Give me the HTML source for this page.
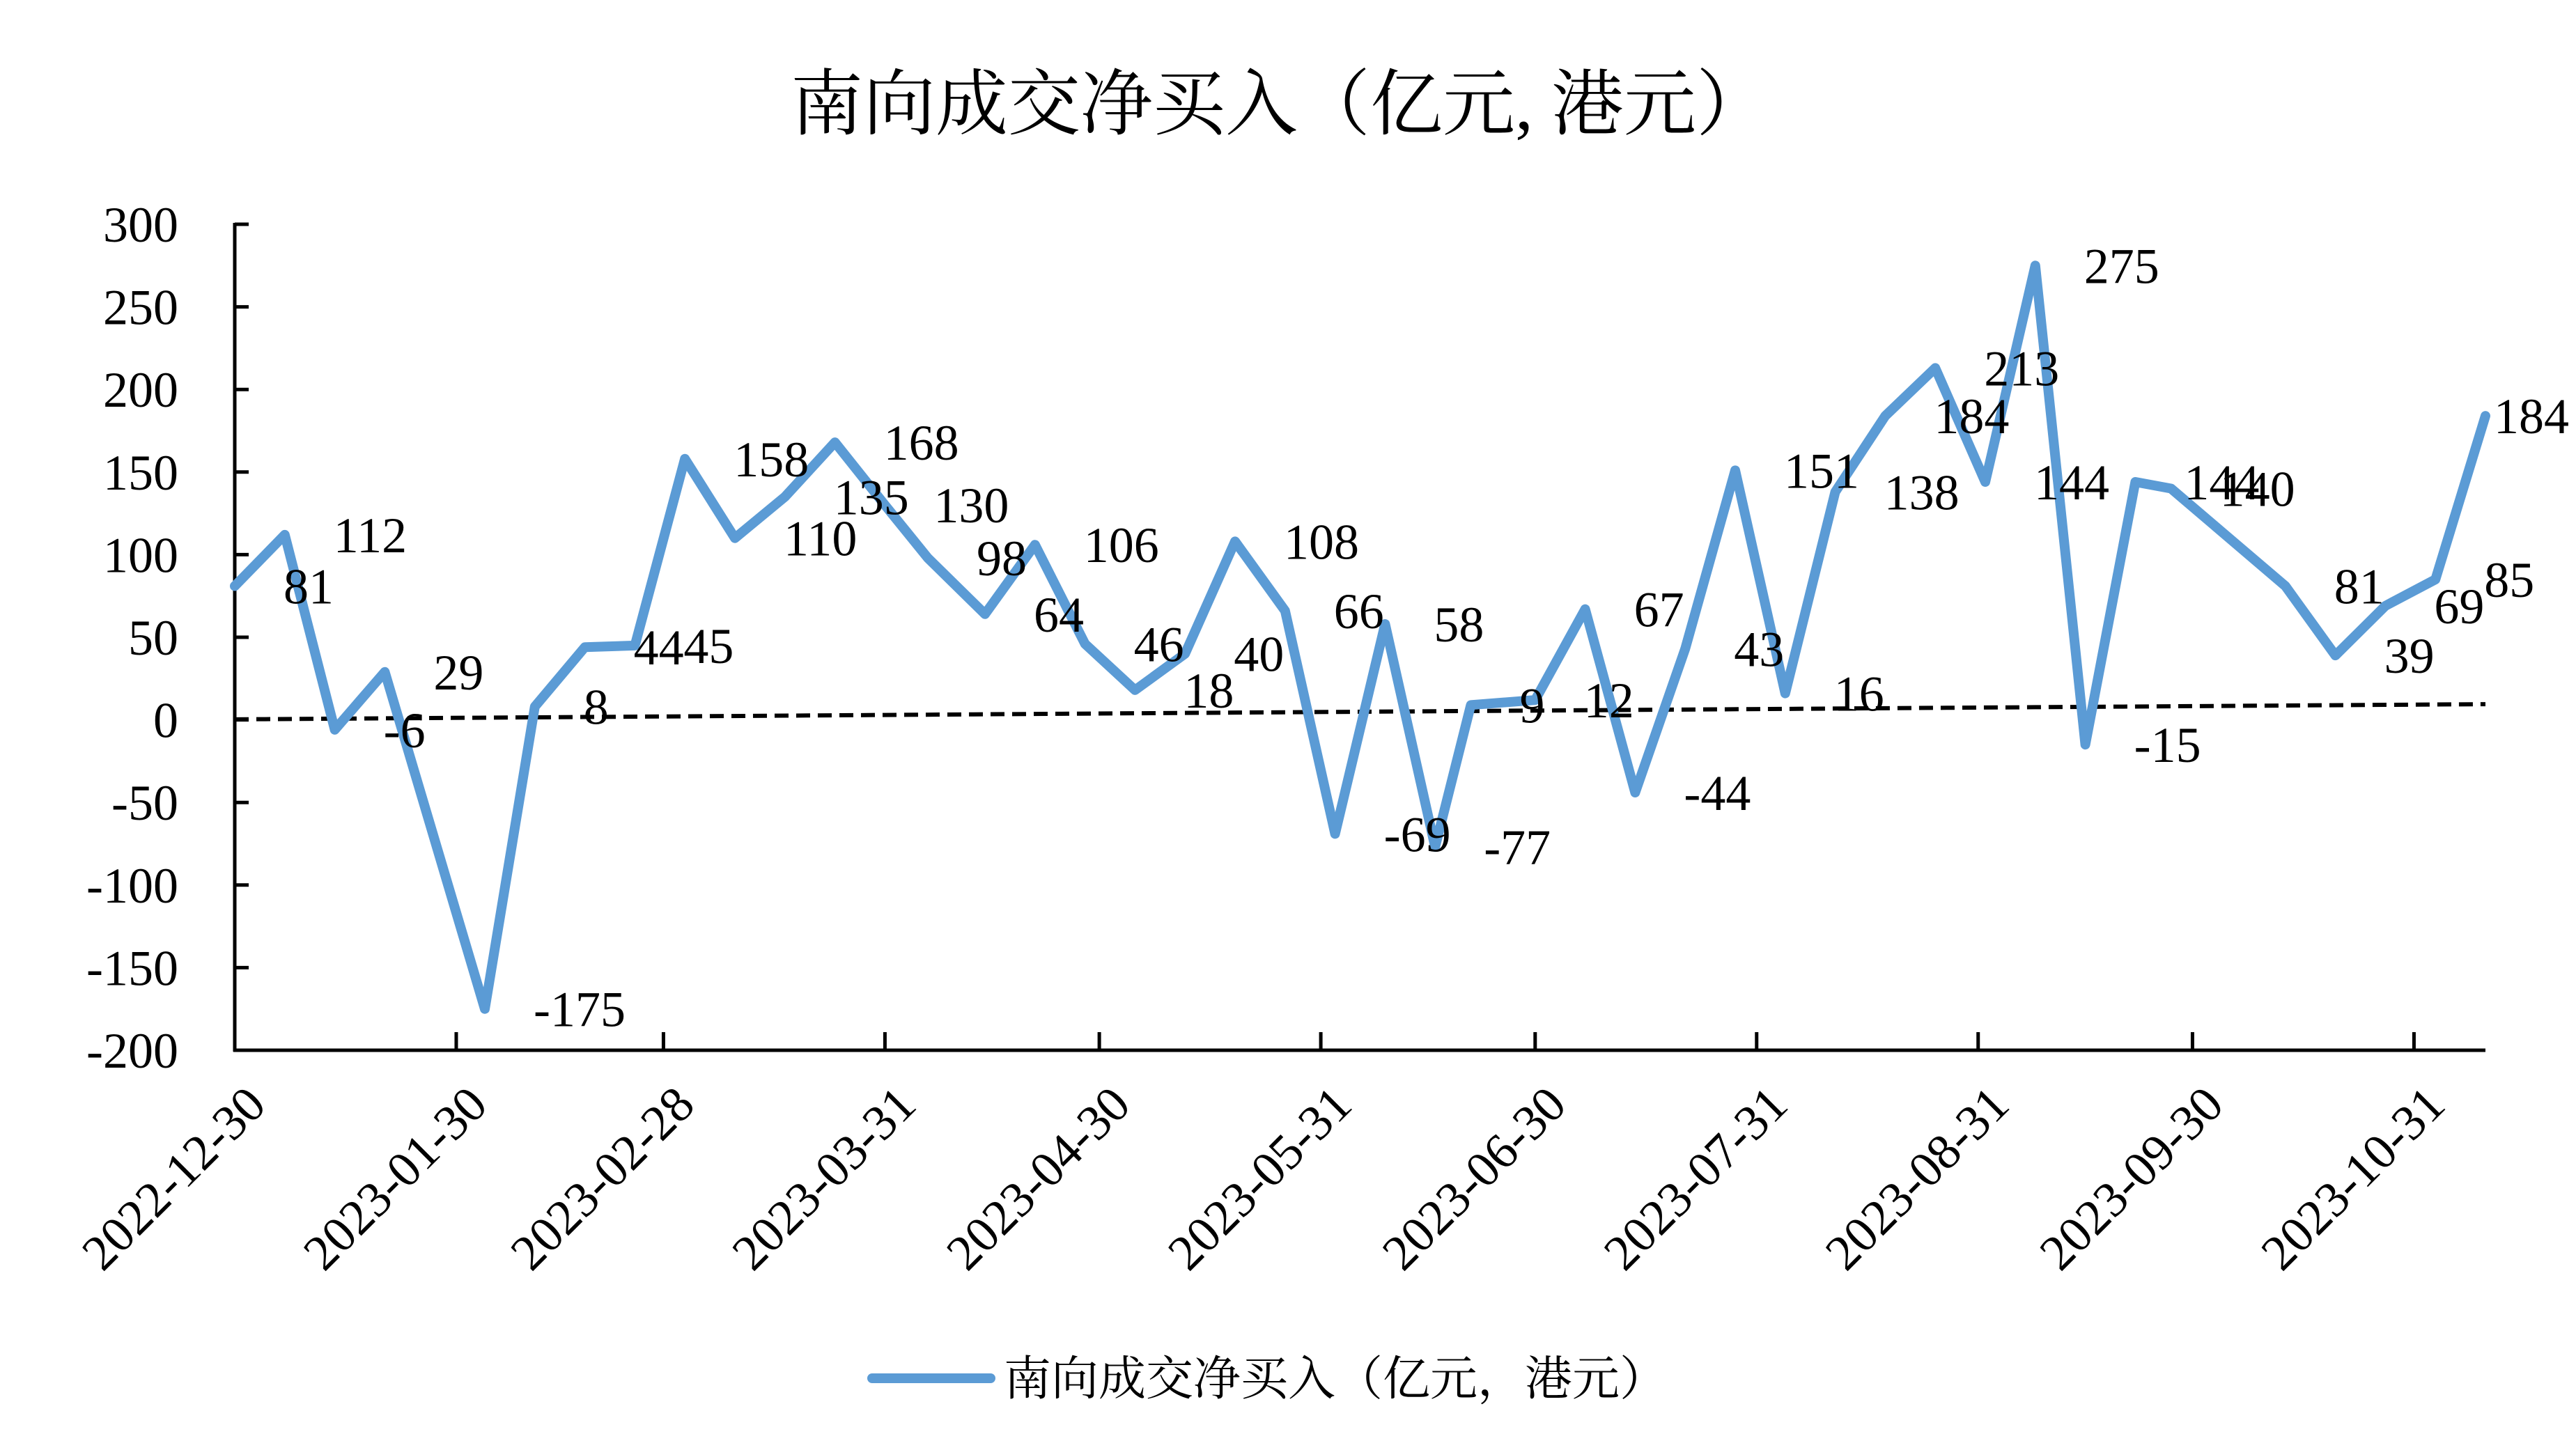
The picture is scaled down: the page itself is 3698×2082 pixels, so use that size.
<!DOCTYPE html>
<html><head><meta charset="utf-8"><style>
html,body{margin:0;padding:0;background:#fff;}
svg{display:block;}
text{font-family:"Liberation Serif","Noto Serif CJK SC",serif;fill:#000;}
.cjk{font-family:"Liberation Serif","Noto Serif CJK SC","Noto Sans CJK SC",serif;}
</style></head><body>
<svg id="chart" width="3698" height="2082" viewBox="0 0 3698 2082" xmlns="http://www.w3.org/2000/svg">
<rect width="3698" height="2082" fill="#fff"/>
<text class="cjk" x="1837" y="185" font-size="104" text-anchor="middle">南向成交净买入（亿元, 港元）</text>
<g id="grid"></g>
<g>
<line x1="1252" y1="1979" x2="1422" y2="1979" stroke="#5B9BD5" stroke-width="14" stroke-linecap="round"/>
<text class="cjk" x="1441" y="2003" font-size="68">南向成交净买入（亿元，港元）</text>
</g>
</svg>
<script>
const dates = ["2022-12-30","2023-01-06","2023-01-13","2023-01-20","2023-02-03","2023-02-10","2023-02-17","2023-02-24","2023-03-03","2023-03-10","2023-03-17","2023-03-24","2023-03-31","2023-04-06","2023-04-14","2023-04-21","2023-04-28","2023-05-05","2023-05-12","2023-05-19","2023-05-26","2023-06-02","2023-06-09","2023-06-16","2023-06-21","2023-06-30","2023-07-07","2023-07-14","2023-07-21","2023-07-28","2023-08-04","2023-08-11","2023-08-18","2023-08-25","2023-09-01","2023-09-08","2023-09-15","2023-09-22","2023-09-27","2023-10-13","2023-10-20","2023-10-27","2023-11-03","2023-11-10"];
const values = [81,112,-6,29,-175,8,44,45,158,110,135,168,130,98,64,106,46,18,40,108,66,-69,58,-77,9,12,67,-44,43,151,16,138,184,213,144,275,-15,144,140,81,39,69,85,184];
const yTicks = [300,250,200,150,100,50,0,-50,-100,-150,-200];
const xTickLabels = ["2022-12-30","2023-01-30","2023-02-28","2023-03-31","2023-04-30","2023-05-31","2023-06-30","2023-07-31","2023-08-31","2023-09-30","2023-10-31"];
const trendValues = [0.3, 9.5];

const NS="http://www.w3.org/2000/svg";
const g=document.getElementById('grid');
const X0=337, X1=3568, YTOP=322, YBOT=1508, VMAX=300, VMIN=-200;
const d0=Date.parse("2022-12-30"), dEnd=Date.parse("2023-11-10");
function xs(ds){return X0+(Date.parse(ds)-d0)/(dEnd-d0)*(X1-X0);}
function ys(v){return YTOP+(VMAX-v)/(VMAX-VMIN)*(YBOT-YTOP);}
function mk(tag,attrs){const e=document.createElementNS(NS,tag);for(const k in attrs)e.setAttribute(k,attrs[k]);g.appendChild(e);return e;}

// y ticks & labels
yTicks.forEach(v=>{
  const t=mk('line',{x1:X0,x2:X0+20,y1:ys(v),y2:ys(v),stroke:'#000','stroke-width':5});
  
  
  const l=mk('text',{x:256,y:ys(v)+25,'font-size':72,'text-anchor':'end'});
  l.textContent=v;
  
  
});
// x ticks & labels
xTickLabels.forEach(ds=>{
  const x=xs(ds);
  const t=mk('line',{x1:x,x2:x,y1:YBOT,y2:YBOT-26,stroke:'#000','stroke-width':5});
  
  
  const l=mk('text',{'font-size':72,'text-anchor':'end',transform:`translate(${x+48},${YBOT+82}) rotate(-45)`});
  l.textContent=ds;
  
  
});
// axes
const ya=mk('line',{x1:X0,x2:X0,y1:YTOP-2,y2:YBOT+2,stroke:'#000','stroke-width':5});


const xa=mk('line',{x1:X0-2,x2:X1,y1:YBOT,y2:YBOT,stroke:'#000','stroke-width':5});


// trend
const tr=mk('line',{x1:X0,x2:X1,y1:ys(trendValues[0]),y2:ys(trendValues[1]),stroke:'#000','stroke-width':6,'stroke-dasharray':'20 11'});


// series
const pts=values.map((v,i)=>xs(dates[i]).toFixed(1)+','+ys(v).toFixed(1)).join(' ');
const pl=mk('polyline',{points:pts,fill:'none',stroke:'#5B9BD5','stroke-width':14,'stroke-linejoin':'round','stroke-linecap':'round'});


// data labels
values.forEach((v,i)=>{
  const last=i===values.length-1;
  const l=mk('text',{x:xs(dates[i])+(last?12:70),y:ys(v)+25,'font-size':72});
  l.textContent=v;
  
  
});
</script>
</body></html>
